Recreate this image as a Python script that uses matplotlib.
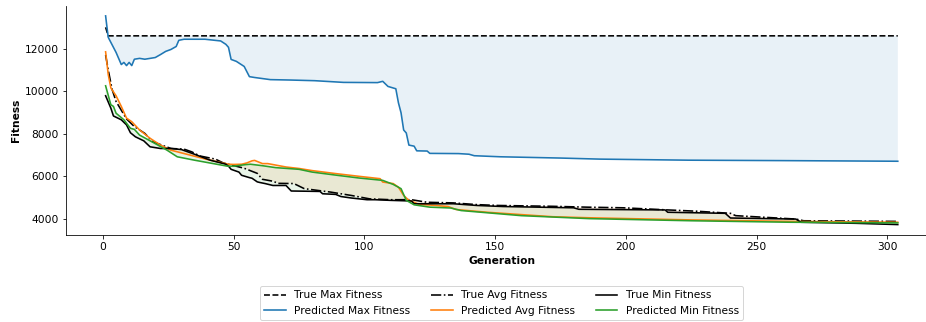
#!/usr/bin/env python
# -*- coding: utf-8 -*-

import numpy as np
import matplotlib
matplotlib.use('Agg')
import matplotlib.pyplot as plt

# generations / values
gen_true_max = [1, 2, 304]
true_max = [13000, 12600, 12600]

gen_pred_max = [1, 2, 5, 7, 8, 9, 10, 11, 12, 14, 16, 18, 20, 22, 24, 26, 28, 29, 31, 39,
                45, 47, 48, 49, 51, 54, 56, 58, 64, 72, 81, 92, 105, 107, 109, 112, 113, 114,
                115, 116, 117, 119, 120, 124, 125, 136, 140, 142, 152, 175, 190, 224, 260, 304]
pred_max = [13540, 12530, 11820, 11250, 11350, 11200, 11350, 11200, 11500, 11540, 11500, 11540,
            11580, 11720, 11870, 11960, 12100, 12390, 12440, 12440, 12360, 12200, 12060, 11490,
            11400, 11160, 10680, 10640, 10540, 10520, 10490, 10410, 10400, 10460, 10220, 10110,
            9450, 8980, 8170, 8030, 7460, 7410, 7190, 7180, 7070, 7060, 7030, 6960, 6910, 6850,
            6800, 6750, 6730, 6700]

gen_true_avg = [1, 2, 3.5, 5, 9, 12, 16, 19, 26, 31, 34, 37, 43, 46, 54, 59, 61, 65, 67, 73,
                77, 87, 95, 102, 110, 118, 124, 134, 143, 151, 172, 185, 199, 216, 227, 240, 242,
                265, 268, 304]
true_avg = [11700, 11000, 10070, 9510, 8690, 8330, 8010, 7620, 7300, 7270, 7140, 6950, 6800, 6620,
            6370, 6130, 5850, 5760, 5660, 5650, 5410, 5250, 5090, 4930, 4890, 4890, 4770, 4740,
            4660, 4620, 4580, 4540, 4510, 4410, 4350, 4250, 4140, 3980, 3900, 3870]

gen_pred_avg = [1, 2, 3, 5, 7, 9, 11, 14, 18, 22, 26, 32, 40, 48, 50, 53, 55, 57, 58, 61, 63, 70,
                75, 80, 89, 98, 106, 107, 111, 113, 115, 117, 119, 121, 125, 132, 135, 147, 160,
                172, 186, 225, 263, 304]
pred_avg = [11850, 10780, 10150, 9780, 9280, 8730, 8560, 8170, 7780, 7460, 7220, 7030, 6780, 6560,
            6550, 6560, 6620, 6720, 6740, 6590, 6590, 6430, 6360, 6260, 6120, 5990, 5880, 5720,
            5650, 5480, 5090, 4860, 4770, 4660, 4640, 4570, 4430, 4300, 4190, 4090, 4040, 3940,
            3870, 3830]

gen_true_min = [1, 3, 4, 7, 9, 10.5, 12.4, 15.6, 18, 22, 26, 30, 35, 41, 47, 48, 49, 52, 53, 56,
                57, 59, 60, 62, 65, 70, 72, 83, 84, 89, 91, 95, 101, 104, 110, 118, 119, 134, 143,
                153, 180, 182, 215, 216, 238, 240, 265, 267, 288, 304]
true_min = [9780, 9200, 8830, 8650, 8410, 8040, 7850, 7660, 7380, 7300, 7300, 7250, 7030, 6750,
            6560, 6470, 6320, 6190, 6040, 5930, 5900, 5730, 5700, 5650, 5560, 5560, 5300, 5280,
            5170, 5140, 5040, 4970, 4890, 4890, 4860, 4830, 4700, 4700, 4620, 4570, 4510, 4440,
            4410, 4300, 4250, 4030, 3980, 3830, 3780, 3720]

gen_pred_min = [1, 3, 4, 5, 8, 10.5, 12, 14, 21, 24.5, 28.4, 35, 47.5, 50, 54.5, 56.4, 61, 66, 75,
                80, 89.5, 98, 107, 111, 114, 116, 119, 125, 133, 137, 160, 186, 225, 263, 304]
pred_min = [10250, 9360, 9280, 8960, 8650, 8250, 8200, 7930, 7460, 7220, 6910, 6750, 6470, 6470,
            6540, 6560, 6490, 6400, 6320, 6190, 6040, 5910, 5800, 5610, 5410, 4860, 4650, 4540,
            4500, 4380, 4140, 4000, 3900, 3830, 3800]

plt.rcParams['font.size'] = 10.6
plt.rcParams['lines.linewidth'] = 1.6


def band(ax, xa, ya, xb, yb, color):
    xs = np.concatenate([np.asarray(xa, float), np.asarray(xb, float)[::-1]])
    ys = np.concatenate([np.asarray(ya, float), np.asarray(yb, float)[::-1]])
    ax.fill(xs, ys, color=color, alpha=0.1, linewidth=0)


fig = plt.figure(figsize=(926 / 72, 322 / 72), dpi=72)
ax = fig.add_axes([66 / 926, 1 - 235 / 322, 871.4 / 926, 228.7 / 322])

ax.plot(gen_true_max, true_max, color='black', linestyle='--', label='True Max Fitness')
ax.plot(gen_pred_max, pred_max, color='C0', label='Predicted Max Fitness')
ax.plot(gen_true_avg, true_avg, color='black', linestyle='-.', label='True Avg Fitness')
ax.plot(gen_pred_avg, pred_avg, color='C1', label='Predicted Avg Fitness')
ax.plot(gen_true_min, true_min, color='black', label='True Min Fitness')
ax.plot(gen_pred_min, pred_min, color='C2', label='Predicted Min Fitness')

band(ax, gen_true_max, true_max, gen_pred_max, pred_max, 'C0')
band(ax, gen_true_avg, true_avg, gen_pred_avg, pred_avg, 'C1')
band(ax, gen_true_min, true_min, gen_pred_min, pred_min, 'C2')

ax.set_ylim(3230, 13990)
ax.spines['top'].set_visible(False)
ax.spines['right'].set_visible(False)
ax.set_xlabel('Generation', fontweight='bold')
ax.set_ylabel('Fitness', fontweight='bold')
ax.legend(loc='upper center', bbox_to_anchor=(0.5, -0.2), ncol=3)

fig.savefig('out.png', dpi=72)
